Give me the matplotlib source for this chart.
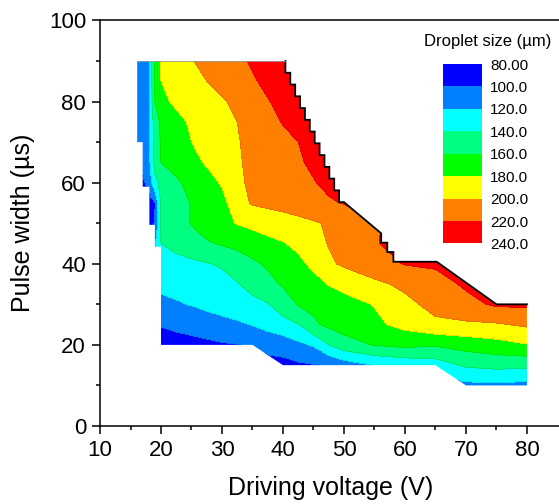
import numpy as np
import matplotlib
matplotlib.use('Agg')
import matplotlib.pyplot as plt
from matplotlib.patches import Polygon

plt.rcParams['font.family'] = ['Liberation Sans', 'DejaVu Sans']

nan = np.nan

# measurement grid: driving voltage (V) x pulse width (us)
voltage = [16, 17, 18, 19, 20, 22.5, 25, 27.5, 30, 32.5, 35, 37.5, 40, 42.5,
           45, 47.5, 50, 55, 60, 65, 70, 75, 80]
pulse_width = [10, 15, 20, 25, 30, 35, 40, 45, 50, 55, 60, 65, 70, 75, 80, 85, 90]

# droplet size (um), one row per pulse width, nan = not measured
droplet_size = [
    [nan] * 19 + [112, 115, 116, 114],                                     # 10
    [nan] * 10 + [92, 94, 94, 97, 99, 102, 110, 121, 126, 130, 143, 146, 145],  # 15
    [nan] * 4 + [92, 93, 94, 96, 98, 99.5, 102, 106, 109, 116, 122, 140, 152,
                 161, 165, 162, 168, 173, 179],                            # 20
    [nan] * 4 + [101, 104, 107, 110, 114, 117, 121, 127, 133, 139, 157, 164,
                 168, 176, 186, 196, 197, 198, 203],                       # 25
    [nan] * 4 + [115, 118, 121, 125, 128, 131, 135, 139, 150, 161, 164, 170,
                 173, 181, 195, 206, 214, 223, 223],                       # 30
    [nan] * 4 + [125, 127, 129, 131, 134, 139, 146, 154, 162, 168, 174, 181,
                 186, 196, 204, 212, 223, 227, 229],                       # 35
    [nan] * 3 + [125, 132, 134, 136, 139, 142, 148, 156, 163, 169, 176, 184,
                 197, 203, 212, 221, 223, 225, 226, nan],                  # 40
    [nan] * 3 + [118, 140, 146, 152, 158, 162, 166, 172, 176, 179, 184, 193,
                 201, 206, 219, 225, 226, 227, nan, nan],                  # 45
    [nan] * 2 + [96, 100, 142, 151, 161, 168, 175, 181, 184, 187, 190, 194,
                 198, 202, 205, 219, 224, nan, nan, nan, nan],             # 50
    [nan] + [92, 94, 99, 142, 152, 161, 169, 174, 192, 202, 205, 208, 211,
             214, 218, 221, 226] + [nan] * 5,                              # 55
    [nan] + [95, 108, 135, 144, 157, 166, 173, 182, 197, 203, 207, 211, 215,
             219, 224, 228] + [nan] * 6,                                   # 60
    [nan] + [108, 114, 146, 160, 167, 175, 182, 190, 198, 204, 209, 213, 218,
             223, 228, 232] + [nan] * 6,                                   # 65
    [108, 110, 115, 148, 162, 171, 180, 186, 193, 199, 204, 210, 215, 220,
     225, 230] + [nan] * 7,                                                # 70
    [110, 112, 116, 150, 163, 174, 183, 188, 194, 200, 207, 214, 221, 227,
     233, 238] + [nan] * 7,                                                # 75
    [110, 113, 117, 160, 175, 184, 189, 193, 198, 204, 211, 219, 225, 231,
     236] + [nan] * 8,                                                     # 80
    [110, 113, 117, 162, 180, 187, 193, 200, 206, 212, 218, 224, 229, 234,
     238] + [nan] * 8,                                                     # 85
    [110, 113, 117, 167, 182, 191, 199, 205, 211, 216, 222, 228, 234, 240]
    + [nan] * 9,                                                           # 90
]

levels = [80, 100, 120, 140, 160, 180, 200, 220, 240]
level_labels = ['80.00', '100.0', '120.0', '140.0', '160.0', '180.0',
                '200.0', '220.0', '240.0']
band_colors = ['#0000ff', '#0080ff', '#00ffff', '#00ff80', '#00ff00',
               '#ffff00', '#ff8000', '#ff0000']

# outline of the tested region
stair1_v = [40.4, 41.2, 42.0, 42.8, 43.6, 44.4, 45.2, 46.0, 46.8, 47.6, 48.4, 49.2, 50.0]
stair1_w = [90, 87.1, 84.2, 81.3, 78.4, 75.5, 72.6, 69.7, 66.8, 63.9, 61.0, 58.1, 55.2]
stair2_v = [56.1, 57.1, 58.1, 59.1]
stair2_w = [47.5, 45.2, 42.9, 40.5]
tail_v = [65.2, 75, 80]
tail_w = [40.5, 30, 30]
lower_v = [80, 70, 65, 40, 35, 20, 20, 19, 19, 18.1, 18.1, 17, 17, 16.1, 16.1]
lower_w = [10, 10, 15, 15, 20, 20, 44.2, 44.2, 49.6, 49.6, 59, 59, 70, 70, 90]


def stairs(vs, ws):
    pts = [(vs[0], ws[0])]
    for i in range(1, len(vs)):
        pts.append((vs[i - 1], ws[i]))
        pts.append((vs[i], ws[i]))
    return pts


upper_edge = ([(16.1, 90)] + stairs(stair1_v, stair1_w)
              + stairs(stair2_v, stair2_w) + list(zip(tail_v, tail_w)))
outline = upper_edge + list(zip(lower_v, lower_w))

fig = plt.figure(figsize=(5.59, 5.04), dpi=100)
ax = fig.add_axes([0.1789, 0.1548, 0.8238, 0.8046])

Z = np.ma.masked_invalid(np.array(droplet_size, dtype=float))
cf = ax.contourf(voltage, pulse_width, Z, levels=levels, colors=band_colors)
cl = ax.contour(voltage, pulse_width, Z, levels=levels[1:-1], colors='k',
                linewidths=0.3, alpha=0.25)
region = Polygon(outline, closed=True, transform=ax.transData)
cf.set_clip_path(region)
cl.set_clip_path(region)

ev, ew = zip(*upper_edge[1:])
ax.plot(ev, ew, color='k', lw=1.3, solid_joinstyle='miter')
ax.plot([16.1, 40.4], [90, 90], color='0.6', lw=0.6)

ax.set_xlim(10, 85.5)
ax.set_ylim(0, 100)
ax.set_xticks(range(10, 90, 10))
ax.set_xticks(range(15, 85, 10), minor=True)
ax.set_yticks(range(0, 101, 20))
ax.set_yticks(range(10, 100, 20), minor=True)
ax.tick_params(which='major', direction='out', length=6, width=1.1,
               labelsize=16, pad=4)
ax.tick_params(which='minor', direction='out', length=3.2, width=1.1)
for s in ax.spines.values():
    s.set_linewidth(1.1)
ax.set_xlabel('Driving voltage (V)', fontsize=18, labelpad=11)
ax.set_ylabel('Pulse width (\u00b5s)', fontsize=18, labelpad=10)

# legend bar
cax = fig.add_axes([0.7925, 0.517, 0.069, 0.356])
cb = fig.colorbar(cf, cax=cax, ticks=levels)
cb.ax.invert_yaxis()
cb.outline.set_visible(False)
cb.ax.set_yticklabels(level_labels)
cb.ax.tick_params(length=0, labelsize=11, pad=6)
fig.text(0.872, 0.917, 'Droplet size (\u00b5m)', ha='center', va='center',
         fontsize=12)

fig.savefig('out.png', dpi=100)
